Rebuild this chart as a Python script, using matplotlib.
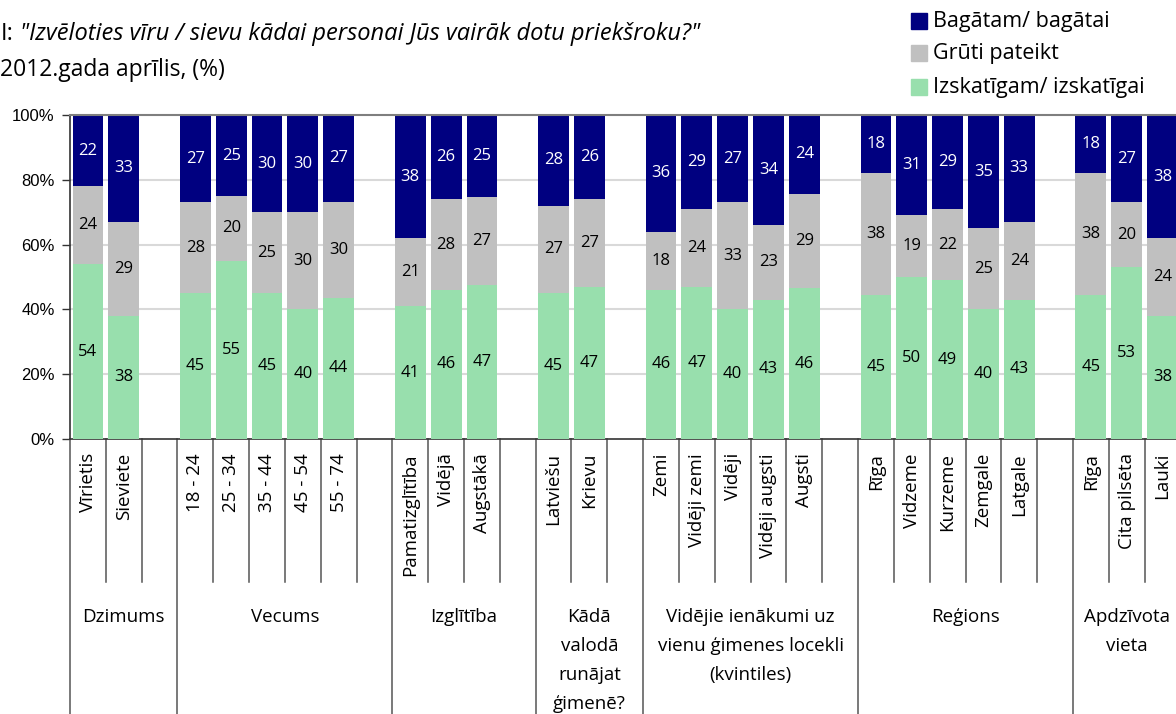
import matplotlib
matplotlib.use("Agg")
import matplotlib.pyplot as plt
from matplotlib.patches import Rectangle
import numpy as np

# ---------------- data ----------------
groups = ["Dzimums", "Vecums", "Izglītība", "Kādā\nvalodā\nrunājat\nģimenē?",
          "Vidējie ienākumi uz\nvienu ģimenes locekli\n(kvintiles)", "Reģions",
          "Apdzīvota\nvieta"]
group_categories = [
    ["Vīrietis", "Sieviete"],
    ["18 - 24", "25 - 34", "35 - 44", "45 - 54", "55 - 74"],
    ["Pamatizglītība", "Vidējā", "Augstākā"],
    ["Latviešu", "Krievu"],
    ["Zemi", "Vidēji zemi", "Vidēji", "Vidēji augsti", "Augsti"],
    ["Rīga", "Vidzeme", "Kurzeme", "Zemgale", "Latgale"],
    ["Rīga", "Cita pilsēta", "Lauki"],
]
series_names = ["Bagātam/ bagātai", "Grūti pateikt", "Izskatīgam/ izskatīgai"]
bagatam = [22, 33, 27, 25, 30, 30, 27, 38, 26, 25, 28, 26, 36, 29, 27, 34, 24,
           18, 31, 29, 35, 33, 18, 27, 38]
gruti = [24, 29, 28, 20, 25, 30, 30, 21, 28, 27, 27, 27, 18, 24, 33, 23, 29,
         38, 19, 22, 25, 24, 38, 20, 24]
izskat = [54, 38, 45, 55, 45, 40, 44, 41, 46, 47, 45, 47, 46, 47, 40, 43, 46,
          45, 50, 49, 40, 43, 45, 53, 38]

# ---------------- styling ----------------
C_NAVY = "#000080"
C_GRAY = "#C0C0C0"
C_GREEN = "#98DFAD"
FONT = ["Open Sans", "DejaVu Sans"]
plt.rcParams["font.family"] = FONT

W, H = 1176, 714
fig = plt.figure(figsize=(W / 100, H / 100), dpi=100)

slot_px = 35.82
n_slots = sum(len(g) for g in group_categories) + len(group_categories) - 1
ax_left, ax_top, ax_bottom = 70, 115, 439
ax = fig.add_axes([ax_left / W, (H - ax_bottom) / H,
                   n_slots * slot_px / W, (ax_bottom - ax_top) / H])

# slot positions
positions = []
group_bounds = []
s = 0
for gi, cats in enumerate(group_categories):
    start = s
    for _ in cats:
        positions.append(s + 0.5)
        s += 1
    end = s + (1 if gi < len(group_categories) - 1 else 0)
    group_bounds.append((start, end))
    s = end
positions = np.array(positions)

vals = np.array([izskat, gruti, bagatam], dtype=float)
shares = vals / vals.sum(axis=0) * 100
colors = [C_GREEN, C_GRAY, C_NAVY]
txtcols = ["#000000", "#000000", "#FFFFFF"]
bottom = np.zeros(len(positions))
bw = 0.86
for k in range(3):
    ax.bar(positions, shares[k], bw, bottom=bottom, color=colors[k],
           zorder=3, linewidth=0)
    for x, b, h, v in zip(positions, bottom, shares[k], vals[k]):
        ax.text(x, b + h / 2, f"{int(v)}", ha="center", va="center",
                fontsize=12, color=txtcols[k], zorder=4)
    bottom += shares[k]

ax.set_xlim(0, n_slots)
ax.set_ylim(0, 100)
ax.set_yticks([0, 20, 40, 60, 80, 100])
ax.set_yticklabels([f"{v}%" for v in [0, 20, 40, 60, 80, 100]],
                   fontfamily="Liberation Sans", fontsize=12)
ax.tick_params(axis="y", length=6, width=1, color="#333333", pad=5)
ax.set_xticks([])
for y in [20, 40, 60, 80]:
    ax.axhline(y, color="#D9D9D9", lw=1.5, zorder=1)
ax.axhline(100, color="#7F7F7F", lw=1.5, zorder=5, clip_on=False)
for sp in ["top", "right"]:
    ax.spines[sp].set_visible(False)
ax.spines["left"].set_color("#333333")
ax.spines["bottom"].set_color("#333333")
ax.spines["left"].set_linewidth(1.2)
ax.spines["bottom"].set_linewidth(1.2)

# category axis
px2ax = 1.0 / (ax_bottom - ax_top)
short_y = -(582 - ax_bottom) * px2ax
long_y = -(800 - ax_bottom) * px2ax
trans = ax.get_xaxis_transform()
group_edges = set()
for a, b in group_bounds:
    group_edges.add(a)
    group_edges.add(b)
for i in range(0, n_slots + 1):
    y1 = long_y if i in group_edges else short_y
    ax.plot([i, i], [0, y1], transform=trans, color="#555555", lw=1.1,
            clip_on=False, zorder=2)

lab_y = -(453 - ax_bottom) * px2ax
idx = 0
for cats in group_categories:
    for c in cats:
        ax.text(positions[idx], lab_y, c, transform=trans, rotation=90,
                ha="center", va="top", fontsize=13.5, color="#000000")
        idx += 1

glab_y = -(608 - ax_bottom) * px2ax
for (a, b), g in zip(group_bounds, groups):
    ax.text((a + b) / 2, glab_y, g, transform=trans, ha="center", va="top",
            fontsize=13.5, linespacing=1.78, color="#000000")

# subtitle
fig.text(1 / W, 1 - 40 / H, "I:", fontsize=17, va="baseline", ha="left")
fig.text(20 / W, 1 - 40 / H,
         "\"Izvēloties vīru / sievu kādai personai Jūs vairāk dotu priekšroku?\"",
         fontsize=17, style="italic", va="baseline", ha="left")
fig.text(0 / W, 1 - 76 / H, "2012.gada aprīlis, (%)", fontsize=16.5,
         va="baseline", ha="left")

# legend
leg_y = [21, 53, 87]
leg_cols = [C_NAVY, C_GRAY, C_GREEN]
for yy, col, name in zip(leg_y, leg_cols, series_names):
    fig.patches.append(Rectangle((911 / W, 1 - (yy + 8) / H), 16 / W, 16 / H,
                                 transform=fig.transFigure, color=col))
    fig.text(933 / W, 1 - yy / H, name, fontsize=15.5, va="center",
             ha="left")

fig.savefig("out.png", dpi=100)
